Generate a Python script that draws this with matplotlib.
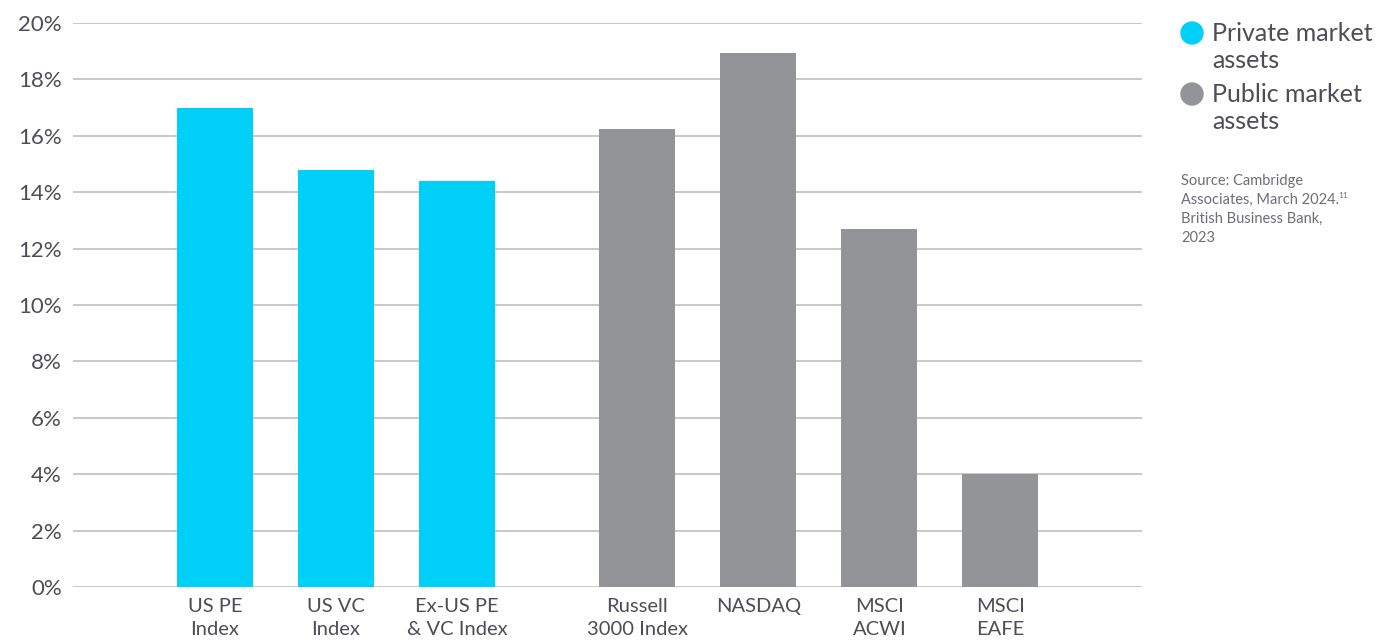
import matplotlib.pyplot as plt
import numpy as np
from matplotlib.patches import Ellipse

# data
private_labels = ["US PE\nIndex", "US VC\nIndex", "Ex-US PE\n& VC Index"]
private_values = [17.0, 14.8, 14.4]
public_labels = ["Russell\n3000 Index", "NASDAQ", "MSCI\nACWI", "MSCI\nEAFE"]
public_values = [16.25, 18.95, 12.7, 4.0]
y_ticks = [0, 2, 4, 6, 8, 10, 12, 14, 16, 18, 20]
legend_labels = ["Private market\nassets", "Public market\nassets"]
source_lines = ["Source: Cambridge", "Associates, March 2024.", "British Business Bank,", "2023"]

CYAN = "#00CFF7"
GREY = "#939498"
TEXT = "#4d4d57"
GRID = "#c4c4c4"

plt.rcParams["font.family"] = ["Lato", "DejaVu Sans"]

W, H = 1382, 640
fig = plt.figure(figsize=(W / 100, H / 100), dpi=100)
ax = fig.add_axes([73 / W, 1 - 587 / H, (1142 - 73) / W, (587 - 23) / H])

group_gap = 0.49
x_priv = np.arange(len(private_values))
x_pub = np.arange(len(public_values)) + len(private_values) + group_gap
width = 0.63

ax.bar(x_priv, private_values, width=width, color=CYAN, zorder=3)
ax.bar(x_pub, public_values, width=width, color=GREY, zorder=3)

ax.set_xlim(-1.174, 7.661)
ax.set_ylim(0, 20)
ax.set_yticks(y_ticks)
ax.set_yticklabels([f"{t}%" for t in y_ticks])
ax.set_xticks(np.concatenate([x_priv, x_pub]))
ax.set_xticklabels(private_labels + public_labels, fontsize=14.5, color=TEXT,
                   va="top", linespacing=1.4)
ax.tick_params(axis="y", length=0, pad=8, labelsize=16, labelcolor=TEXT)
ax.tick_params(axis="x", length=0, pad=8)
ax.yaxis.grid(True, color=GRID, linewidth=1.3, zorder=0)
for s in ax.spines.values():
    s.set_visible(False)

# legend
r = 11
for yc, c, lab in [(33, CYAN, legend_labels[0]), (94, GREY, legend_labels[1])]:
    fig.patches.append(Ellipse((1192 / W, 1 - yc / H), 2 * r / W, 2 * r / H,
                               transform=fig.transFigure, color=c, figure=fig))
    fig.text(1212 / W, 1 - (yc - 11) / H, lab, fontsize=18, color=TEXT,
             va="top", ha="left", linespacing=1.2)

# source note
src_col = "#6e6e78"
src_size = 10.5
for i, line in enumerate(source_lines):
    t = fig.text(1181 / W, 1 - (181 + 19 * i) / H, line, fontsize=src_size, color=src_col,
                 va="center", ha="left")
    if i == 1:
        fig.canvas.draw()
        bb = t.get_window_extent(fig.canvas.get_renderer())
        fig.text((bb.x1 - 1) / W, 1 - (181 + 19 * i - 5) / H, "11", fontsize=6,
                 color=src_col, va="center", ha="left")

fig.savefig("out.png", dpi=100)
